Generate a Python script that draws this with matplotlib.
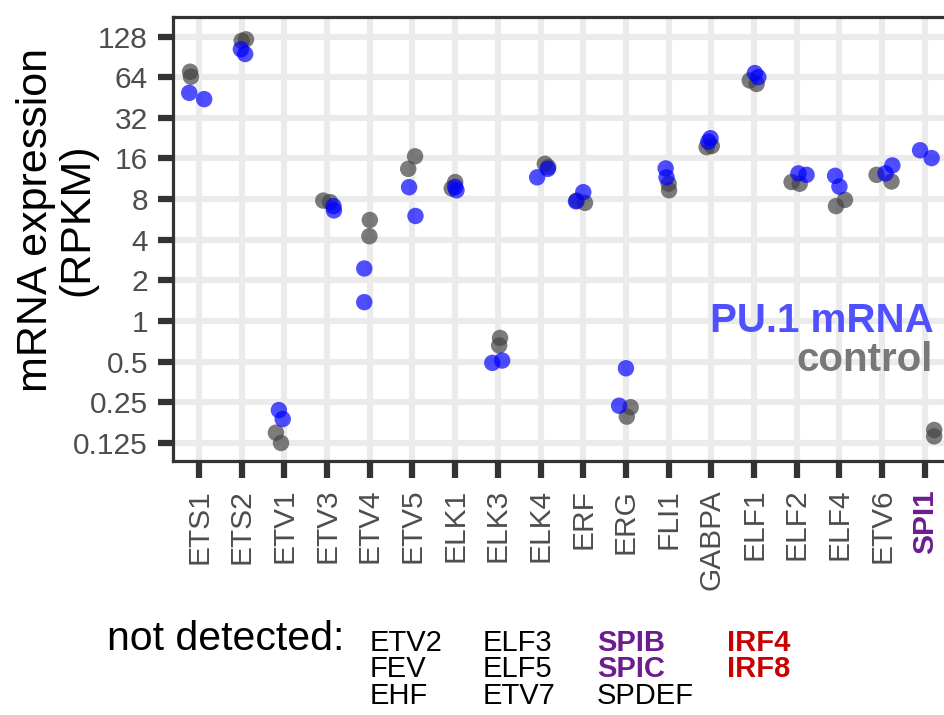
import numpy as np
import matplotlib
matplotlib.use('Agg')
import matplotlib.pyplot as plt

plt.rcParams['font.family'] = ['Liberation Sans', 'DejaVu Sans']

genes = ['ETS1', 'ETS2', 'ETV1', 'ETV3', 'ETV4', 'ETV5', 'ELK1', 'ELK3', 'ELK4',
         'ERF', 'ERG', 'FLI1', 'GABPA', 'ELF1', 'ELF2', 'ELF4', 'ETV6', 'SPI1']

# RPKM values (two replicates each)
control_a = [70.2, 119, 0.149, 7.8, 5.6, 13.4, 10.7, 0.75, 14.6, 7.5, 0.23, 10.4, 19.4, 60.5, 10.7, 7.1, 12.1, 0.156]
control_b = [64.5, 122, 0.125, 7.6, 4.25, 16.6, 9.6, 0.66, 13.8, 7.8, 0.196, 9.3, 19.8, 57.0, 10.4, 7.9, 10.8, 0.140]
pu1_a = [49.0, 103, 0.219, 7.1, 2.45, 9.8, 9.85, 0.49, 11.6, 7.7, 0.447, 13.5, 22.6, 68.6, 12.4, 11.9, 12.4, 18.4]
pu1_b = [44.0, 95, 0.188, 6.6, 1.38, 6.0, 9.3, 0.51, 13.4, 9.0, 0.236, 11.6, 21.3, 64.0, 12.1, 9.9, 14.2, 16.1]

# horizontal jitter (category units)
control_jit_a = [-0.21, 0.00, -0.20, -0.09, 0.00, -0.10, 0.00, 0.05, 0.10, 0.04, 0.11, 0.00, -0.11, -0.10, -0.12, -0.08, -0.13, 0.22]
control_jit_b = [-0.19, 0.10, -0.08, 0.07, -0.01, 0.06, -0.08, 0.03, 0.18, -0.15, 0.02, 0.01, 0.01, 0.06, 0.07, 0.13, 0.22, 0.22]
pu1_jit_a = [-0.23, -0.02, -0.13, 0.15, -0.13, -0.08, 0.00, -0.13, -0.08, -0.17, 0.00, -0.07, -0.02, 0.02, 0.04, -0.10, 0.08, -0.11]
pu1_jit_b = [0.12, 0.08, -0.04, 0.16, -0.13, 0.07, 0.03, 0.10, 0.17, 0.00, -0.16, -0.05, -0.07, 0.10, 0.23, 0.00, 0.24, 0.16]

ytick_vals = [0.125, 0.25, 0.5, 1, 2, 4, 8, 16, 32, 64, 128]
ytick_labels = ['0.125', '0.25', '0.5', '1', '2', '4', '8', '16', '32', '64', '128']

# "not detected" lists, grouped by column and colour
nd_col1 = ['ETV2', 'FEV', 'EHF']
nd_col2 = ['ELF3', 'ELF5', 'ETV7']
nd_col3_purple = ['SPIB', 'SPIC']
nd_col3_black = ['SPDEF']
nd_col4_red = ['IRF4', 'IRF8']
purple_genes = ['SPI1']

PURPLE = '#6B1D8F'
RED = '#C80000'
GREY_PT = '#454545'
BLUE_PT = '#0000FF'

fig = plt.figure(figsize=(9.44, 7.15), dpi=100)
ax = fig.add_axes([173 / 944, 1 - 461 / 715, 1 - 173 / 944, (461 - 17) / 715])

x = np.arange(len(genes))
S = 140
ax.scatter(x + np.array(control_jit_a), control_a, s=S, color=GREY_PT, alpha=0.7, edgecolors='none', zorder=3)
ax.scatter(x + np.array(control_jit_b), control_b, s=S, color=GREY_PT, alpha=0.7, edgecolors='none', zorder=3)
ax.scatter(x + np.array(pu1_jit_a), pu1_a, s=S, color=BLUE_PT, alpha=0.69, edgecolors='none', zorder=4)
ax.scatter(x + np.array(pu1_jit_b), pu1_b, s=S, color=BLUE_PT, alpha=0.69, edgecolors='none', zorder=4)

ax.set_yscale('log', base=2)
ax.set_ylim(2 ** -3.443, 2 ** 7.48)
ax.set_xlim(-0.61, 17.45)
ax.set_yticks(ytick_vals)
ax.set_yticklabels(ytick_labels)
ax.yaxis.set_minor_locator(matplotlib.ticker.NullLocator())
ax.set_xticks(x)
ax.set_xticklabels(genes, rotation=90, va='top', ha='center')

for lbl in ax.get_xticklabels():
    if lbl.get_text() in purple_genes:
        lbl.set_color(PURPLE)
        lbl.set_fontweight('bold')
    else:
        lbl.set_color('#4D4D4D')

ax.tick_params(axis='x', labelsize=21.5, length=12, width=4.5, color='#333333', pad=8)
ax.tick_params(axis='y', labelsize=21.5, length=11, width=4.5, color='#333333', labelcolor='#4D4D4D', pad=7)

ax.grid(True, color='#EBEBEB', linewidth=4.4, zorder=0)
ax.set_axisbelow(True)
for side in ['left', 'bottom', 'top']:
    ax.spines[side].set_color('#333333')
    ax.spines[side].set_linewidth(2.3)
ax.spines['right'].set_visible(False)

# legend-like annotations
ax.text(0.987, 1 - (331.7 - 17) / 444, 'PU.1 mRNA', transform=ax.transAxes, ha='right', va='baseline',
        fontsize=29, fontweight='bold', color='#5050FF', zorder=5)
ax.text(0.986, 1 - (371 - 17) / 444, 'control', transform=ax.transAxes, ha='right', va='baseline',
        fontsize=29, fontweight='bold', color='#787878', zorder=5)

# y label
fig.text(57 / 944, 1 - 220 / 715, 'mRNA expression\n(RPKM)', rotation=90, ha='center', va='center',
         multialignment='center', fontsize=31, color='black', linespacing=1.05)

# not detected block
FS = 21
LS = 0.93
fig.text(107 / 944, 1 - 650 / 715, 'not detected:', ha='left', va='baseline', fontsize=29.5, color='black')


def col_text(px, py, names, color, weight, va='top'):
    fig.text(px / 944, 1 - py / 715, '\n'.join(names), ha='left', va=va, fontsize=FS,
             color=color, fontweight=weight, linespacing=LS)


top_y = 629
col_text(370, top_y, nd_col1, 'black', 'normal')
col_text(483, top_y, nd_col2, 'black', 'normal')
col_text(597, top_y, nd_col3_purple, PURPLE, 'bold')
col_text(597, 704.5, nd_col3_black, 'black', 'normal', va='baseline')
col_text(727, top_y, nd_col4_red, RED, 'bold')

fig.savefig('out.png', dpi=100)
